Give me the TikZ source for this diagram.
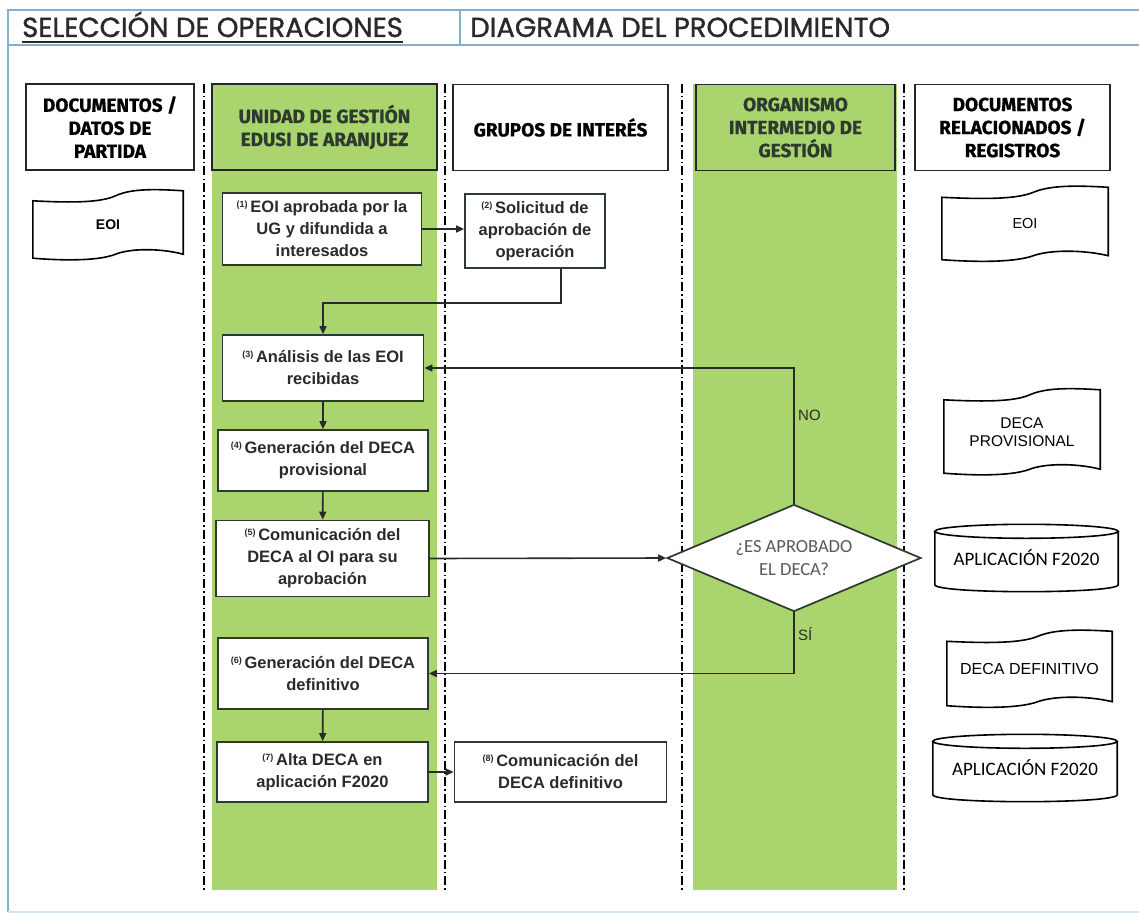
\documentclass[tikz,border=0pt]{standalone}
\usepackage{fontspec}
\setmainfont{Liberation Sans}
\newfontfamily\titlefont{Poppins}[FakeBold=1.2]
\newfontfamily\headfont{Fira Sans}[BoldFeatures={FakeBold=0.8}]
\newfontfamily\calfont{Carlito}
\usetikzlibrary{arrows.meta,shapes.geometric,calc}
\definecolor{lanegreen}{HTML}{A9D46E}
\definecolor{boxline}{HTML}{2D3A30}
\definecolor{txtgray}{HTML}{2A2A2A}
\definecolor{framecol}{HTML}{7FB2D0}
\newcommand\nsup[1]{\raisebox{0.6ex}{\fontsize{9}{9}\selectfont(#1)}\,}
\newcommand\tapedraw[1]{\draw[shapeline] let \p1=(#1.north west), \p2=(#1.south east) in
  (\x1,\y1-5pt) .. controls ({\x1+0.25*(\x2-\x1)},\y1-7pt) and ({\x1+0.45*(\x2-\x1)},\y1-7pt) .. ({\x1+0.55*(\x2-\x1)},\y1)
  .. controls ({\x1+0.65*(\x2-\x1)},\y1+7pt) and ({\x1+0.8*(\x2-\x1)},\y1+7pt) .. (\x2,\y1+5pt)
  -- (\x2,\y2) .. controls ({\x1+0.85*(\x2-\x1)},\y2+6pt) and ({\x1+0.65*(\x2-\x1)},\y2+6pt) .. ({\x1+0.55*(\x2-\x1)},\y2)
  .. controls ({\x1+0.45*(\x2-\x1)},\y2-6pt) and ({\x1+0.25*(\x2-\x1)},\y2-7pt) .. (\x1,\y2-4pt) -- cycle;}
\newcommand\cyldraw[1]{\draw[shapeline] let \p1=(#1.north west), \p2=(#1.south east) in
  (\x1,\y1) -- (\x1,\y2) .. controls (\x1,\y2-9.3pt) and (\x2,\y2-9.3pt) .. (\x2,\y2) -- (\x2,\y1)
  ({(\x1+\x2)/2},\y1) ellipse [x radius={(\x2-\x1)/2}, y radius=7pt];}
\tikzset{
  frameline/.style={draw=framecol, line width=1.8pt},
  laneline/.style={draw=black, line width=1.6pt, dash pattern=on 9pt off 3pt on 1.5pt off 3pt},
  hdr/.style={draw=black!85, line width=1.8pt, minimum height=86pt, align=center, inner sep=0pt,
    font=\headfont\bfseries\fontsize{19}{23}\selectfont},
  stepbox/.style={draw=boxline, line width=1.7pt, fill=white, align=center, inner sep=0pt,
    text=txtgray, font=\bfseries\fontsize{16.5}{22}\selectfont},
  docnode/.style={inner sep=0pt, align=center, text=black, font=\fontsize{15.5}{18}\selectfont},
  shapeline/.style={draw=black, line width=1.6pt},
  conn/.style={draw=txtgray, line width=1.6pt, -{Triangle[length=8pt,width=7pt]}},
  lbl/.style={inner sep=0pt, text=txtgray, font=\fontsize{15}{17}\selectfont},
  titlestyle/.style={inner sep=0pt, text=txtgray, font=\titlefont\fontsize{27.5}{30}\selectfont}
}
\begin{document}
\begin{tikzpicture}[x=1pt,y=-1pt]
\useasboundingbox (0,0) rectangle (1139,920);
\fill[white] (0,0) rectangle (1139,920);
% frame
\draw[frameline] (1145,10) -- (8,10) -- (8,912);
\draw[frameline] (8,45) -- (1145,45);
\draw[frameline] (460,10) -- (460,45);
\draw[draw=framecol!35, line width=1.5pt] (8,912) -- (1145,912);
% titles
\node[titlestyle, anchor=base west] (t1) at (22,37) {SELECCIÓN DE OPERACIONES};
\draw[txtgray, line width=1.8pt] ($(t1.base west)+(0,5)$) -- ($(t1.base east)+(0,5)$);
\node[titlestyle, anchor=base west] (t2) at (470,37) {DIAGRAMA DEL PROCEDIMIENTO};
% lanes
\fill[lanegreen] (212,84) rectangle (437,890);
\fill[lanegreen] (693,84) rectangle (897,890);
\draw[laneline] (204,84) -- (204,890);
\draw[laneline] (445,84) -- (445,890);
\draw[laneline] (682,84) -- (682,890);
\draw[laneline] (904,84) -- (904,890);
% headers
\node[hdr, minimum width=168pt, fill=white] (h1) at (110,127) {DOCUMENTOS /\\DATOS DE\\PARTIDA};
\node[hdr, minimum width=225pt, fill=lanegreen, text=boxline] (h2) at (324.5,127) {UNIDAD DE GESTIÓN\\EDUSI DE ARANJUEZ};
\node[hdr, minimum width=215pt, fill=white] (h3) at (560.5,127.5) {GRUPOS DE INTERÉS};
\node[hdr, minimum width=199pt, fill=lanegreen, text=boxline] (h4) at (795.5,127.5) {ORGANISMO\\INTERMEDIO DE\\GESTIÓN};
\node[hdr, minimum width=195pt, fill=white] (h5) at (1012.5,127.5) {DOCUMENTOS\\RELACIONADOS /\\REGISTROS};
% steps
\node[stepbox, minimum width=199pt, minimum height=72pt] (b1) at (322,229) {\nsup{1}EOI aprobada por la\\UG y difundida a\\interesados};
\node[stepbox, minimum width=140pt, minimum height=74pt] (b2) at (535,231) {\nsup{2}Solicitud de\\aprobación de\\operación};
\node[stepbox, minimum width=201pt, minimum height=66pt] (b3) at (323,368) {\nsup{3}Análisis de las EOI\\recibidas};
\node[stepbox, minimum width=210pt, minimum height=61pt] (b4) at (323,460.5) {\nsup{4}Generación del DECA\\provisional};
\node[stepbox, minimum width=213pt, minimum height=76pt] (b5) at (322.5,558.5) {\nsup{5}Comunicación del\\DECA al OI para su\\aprobación};
\node[stepbox, minimum width=210pt, minimum height=71pt] (b6) at (323,673.5) {\nsup{6}Generación del DECA\\definitivo};
\node[stepbox, minimum width=211pt, minimum height=60pt] (b7) at (322.5,772) {\nsup{7}Alta DECA en\\aplicación F2020};
\node[stepbox, minimum width=212pt, minimum height=60pt] (b8) at (560.5,772) {\nsup{8}Comunicación del\\DECA definitivo};
\node[diamond, aspect=2.37, draw=boxline, line width=1.7pt, fill=white, inner sep=0pt,
  minimum width=254pt, minimum height=107pt, align=center, text=black!65,
  font=\calfont\fontsize{18.5}{23}\selectfont] (dia) at (794,558) {¿ES APROBADO\\EL DECA?};
% documents
\node[docnode, minimum width=150pt, minimum height=58pt, font=\bfseries\fontsize{14}{17}\selectfont] (dL) at (108,225) {EOI};
\tapedraw{dL}
\node[docnode, minimum width=166pt, minimum height=63pt, font=\fontsize{14.5}{17}\selectfont] (dR) at (1025,224) {EOI};
\tapedraw{dR}
\node[docnode, minimum width=156pt, minimum height=74pt] (dP) at (1022,432) {DECA\\PROVISIONAL};
\tapedraw{dP}
\node[docnode, minimum width=165pt, minimum height=65pt, font=\fontsize{16}{18}\selectfont] (dD) at (1029.5,669) {DECA DEFINITIVO};
\tapedraw{dD}
\node[docnode, minimum width=183pt, minimum height=53pt, font=\calfont\fontsize{19}{21}\selectfont] (c1) at (1026.5,558) {APLICACIÓN F2020};
\cyldraw{c1}
\node[docnode, minimum width=184pt, minimum height=53pt, font=\calfont\fontsize{19}{21}\selectfont] (c2) at (1025,768) {APLICACIÓN F2020};
\cyldraw{c2}
% connectors
\draw[conn] (b1.east) -- (b1.east -| b2.west);
\draw[conn] ($(b2.south)+(26,0)$) -- ++(0,34) -| (b3.north);
\draw[conn] (b3) -- (b4);
\draw[conn] (b4) -- (b5);
\draw[conn] (b5.east) -- (dia.west);
\draw[conn] (dia.north) |- (b3.east);
\draw[conn] (dia.south) |- (b6.east);
\draw[conn] (b6) -- (b7);
\draw[conn] (b7.east) -- (b8.west);
\node[lbl, anchor=west] (no) at (798,415) {NO};
\node[lbl, anchor=west] (si) at (798,634) {SÍ};
\end{tikzpicture}
\end{document}
